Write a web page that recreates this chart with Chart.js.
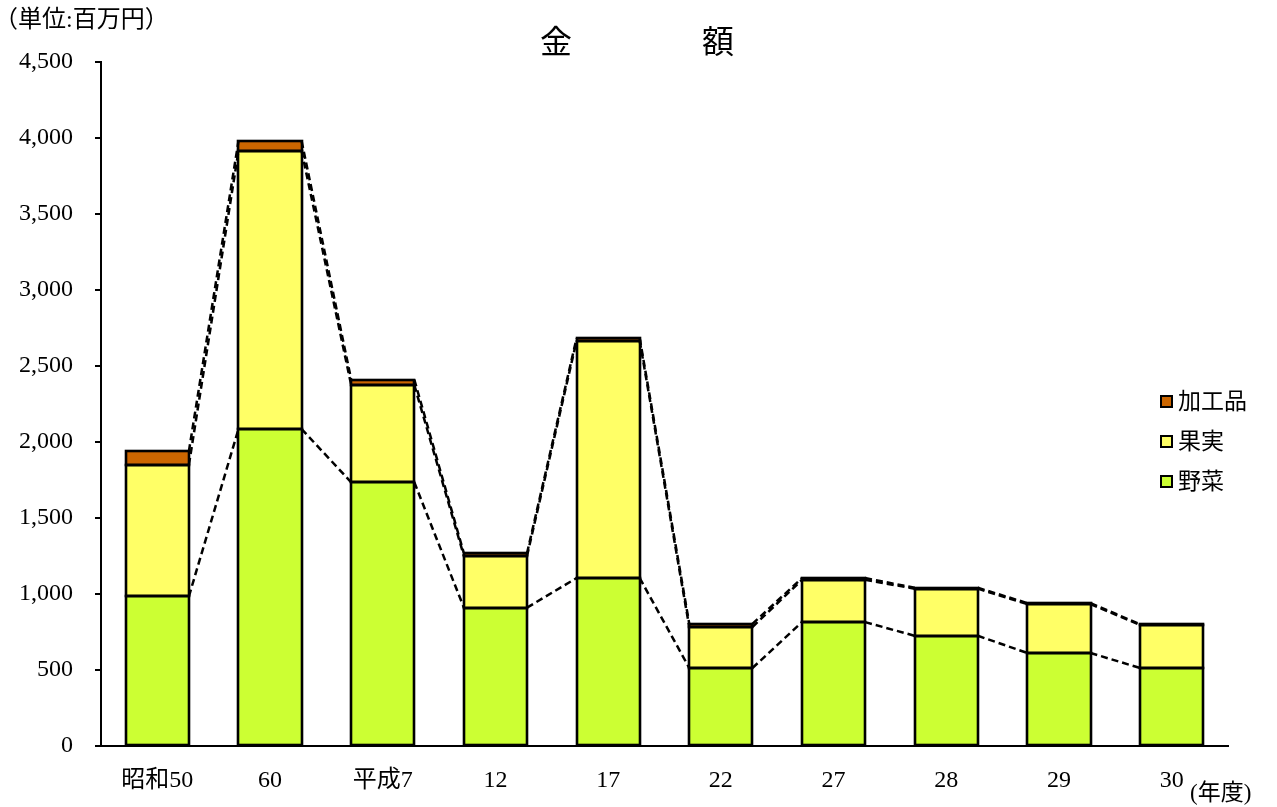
<!DOCTYPE html>
<html>
<head>
<meta charset="utf-8">
<script src="https://cdn.jsdelivr.net/npm/chart.js@4/dist/chart.umd.min.js"></script>
<style>
  html, body { margin: 0; padding: 0; background: #fff; }
  #wrap { position: relative; width: 1277px; height: 807px; font-family: "Liberation Serif", "Noto Sans CJK JP", serif; color: #000; }
  canvas { position: absolute; left: 0; top: 0; }
  .lbl { position: absolute; white-space: nowrap; line-height: 1; }
  #legend .item { position: absolute; left: 0; display: flex; align-items: center; font-size: 23px; }
  #legend .box { width: 9px; height: 9px; border: 2px solid #000; margin-right: 5px; }
</style>
</head>
<body>
<div id="wrap">
  <canvas id="c" width="1277" height="807"></canvas>
  <div class="lbl" style="left:-6px; top:7px; font-size:24px;">（単位:百万円）</div>
  <div class="lbl" style="left:540px; top:26px; font-size:32px; letter-spacing:22px;">金　　額</div>
  <div class="lbl" style="left:1190px; top:781px; font-size:23px;">(年度)</div>
  <div id="legend" class="lbl" style="left:1160px; top:390px;"></div>
</div>
<script>
// categories and values (百万円)
const categories = ['昭和50', '60', '平成7', '12', '17', '22', '27', '28', '29', '30'];
const yasai   = [985, 2085, 1735, 910, 1105, 513, 815, 725, 612, 513];   // 野菜
const kajitsu = [865, 1830, 640, 340, 1560, 270, 278, 310, 322, 283];    // 果実
const kakou   = [90, 65, 35, 18, 18, 20, 12, 6, 6, 5];                   // 加工品
const yTicks  = [0, 500, 1000, 1500, 2000, 2500, 3000, 3500, 4000, 4500];

const FONT = '"Liberation Serif", "Noto Sans CJK JP", serif';

// Excel style series lines between the stacks, plus crisp bar outlines
const seriesLines = {
  id: 'seriesLines',
  afterDatasetsDraw(chart) {
    const ctx = chart.ctx;
    ctx.save();
    ctx.strokeStyle = '#000';

    // dashed series lines
    ctx.lineWidth = 2.5;
    ctx.setLineDash([7, 4]);
    chart.data.datasets.forEach((ds, di) => {
      const bars = chart.getDatasetMeta(di).data;
      for (let i = 0; i < bars.length - 1; i++) {
        const a = bars[i], b = bars[i + 1];
        ctx.beginPath();
        ctx.moveTo(a.x + a.width / 2, a.y);
        ctx.lineTo(b.x - b.width / 2, b.y);
        ctx.stroke();
      }
    });

    // outlines
    ctx.setLineDash([]);
    ctx.lineWidth = 2.6;
    chart.data.datasets.forEach((ds, di) => {
      chart.getDatasetMeta(di).data.forEach(bar => {
        const l = Math.round(bar.x - bar.width / 2);
        const r = Math.round(bar.x + bar.width / 2);
        const t = Math.round(bar.y);
        const btm = Math.round(bar.base);
        ctx.strokeRect(l, t, r - l, btm - t);
      });
    });
    ctx.restore();
  }
};

const common = { borderWidth: 0, barPercentage: 0.56, categoryPercentage: 1.0 };

new Chart(document.getElementById('c'), {
  type: 'bar',
  data: {
    labels: categories,
    datasets: [
      { label: '野菜', data: yasai, backgroundColor: '#ccff33', ...common },
      { label: '果実', data: kajitsu, backgroundColor: '#ffff66', ...common },
      { label: '加工品', data: kakou, backgroundColor: '#cc6600', ...common }
    ]
  },
  options: {
    responsive: false,
    animation: false,
    layout: { padding: { top: 62, right: 49, left: 0, bottom: 0 } },
    plugins: { legend: { display: false }, title: { display: false }, tooltip: { enabled: false } },
    scales: {
      x: {
        stacked: true,
        grid: { display: false },
        border: { color: '#000', width: 2 },
        ticks: { color: '#000', font: { family: FONT, size: 24 }, padding: 12, maxRotation: 0 },
        afterFit(s) { s.height = 61; }
      },
      y: {
        stacked: true,
        min: 0,
        max: 4500,
        afterBuildTicks(s) { s.ticks = yTicks.map(v => ({ value: v })); },
        grid: { drawOnChartArea: false, color: '#000', lineWidth: 2, tickLength: 6 },
        border: { color: '#000', width: 2 },
        ticks: {
          color: '#000',
          font: { family: FONT, size: 24 },
          padding: 22,
          callback: v => v.toLocaleString('en-US')
        },
        afterFit(s) { s.width = 101; }
      }
    }
  },
  plugins: [seriesLines]
});

// legend (top to bottom: 加工品, 果実, 野菜)
const legendItems = [
  { name: '加工品', color: '#cc6600' },
  { name: '果実', color: '#ffff66' },
  { name: '野菜', color: '#ccff33' }
];
const lg = document.getElementById('legend');
legendItems.forEach((it, i) => {
  const d = document.createElement('div');
  d.className = 'item';
  d.style.top = (i * 40) + 'px';
  d.innerHTML = `<span class="box" style="background:${it.color}"></span><span>${it.name}</span>`;
  lg.appendChild(d);
});
</script>
</body>
</html>
